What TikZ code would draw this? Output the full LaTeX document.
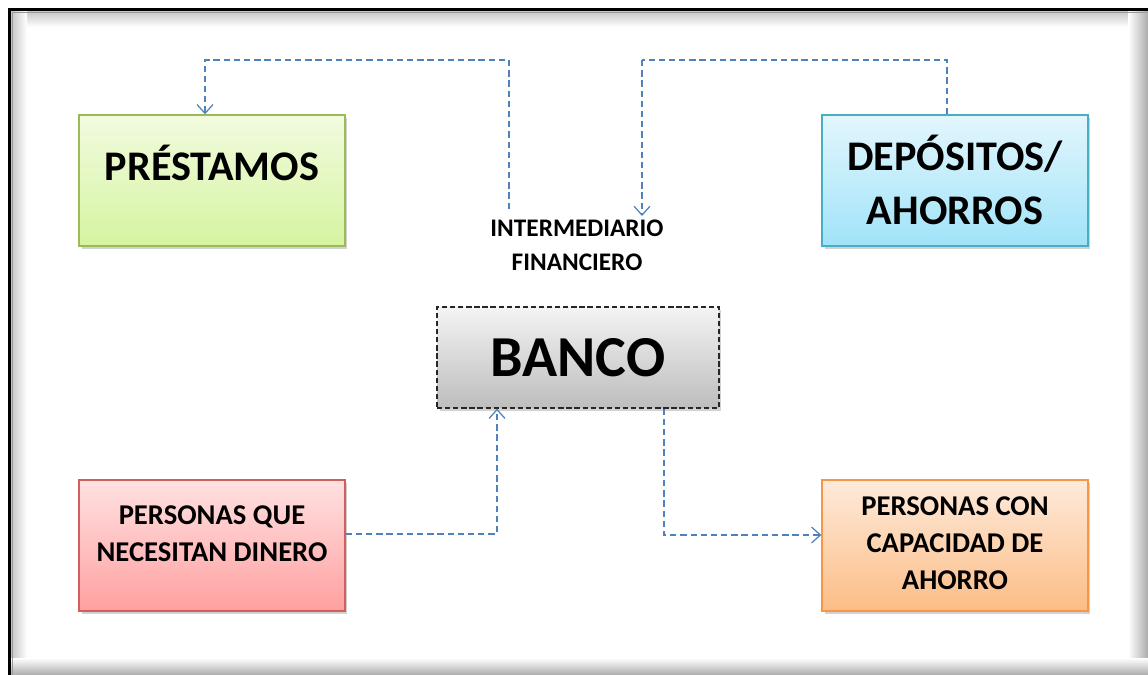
\documentclass[tikz,border=0pt]{standalone}
\usepackage{fontspec}
\setmainfont{Carlito}
\usetikzlibrary{arrows.meta,shadows}
\definecolor{conncol}{HTML}{4F81BD}
\definecolor{grnB}{HTML}{9BBB59}\definecolor{grnT}{HTML}{F2FBDF}\definecolor{grnD}{HTML}{D5F4A0}
\definecolor{cyaB}{HTML}{4BACC6}\definecolor{cyaT}{HTML}{E3F6FD}\definecolor{cyaD}{HTML}{A0E3F9}
\definecolor{gryT}{HTML}{F4F4F4}\definecolor{gryD}{HTML}{BDBDBD}
\definecolor{pnkB}{HTML}{D0605D}\definecolor{pnkT}{HTML}{FFE1E1}\definecolor{pnkD}{HTML}{FFA0A0}
\definecolor{orgB}{HTML}{F79646}\definecolor{orgT}{HTML}{FEEADB}\definecolor{orgD}{HTML}{FCBD86}
\begin{document}
\begin{tikzpicture}[x=0.02cm,y=-0.02cm,
  boxbase/.style={rectangle, minimum width=5.32cm, minimum height=2.62cm, inner sep=0pt,
     line width=0.8pt, drop shadow={shadow xshift=0.05cm, shadow yshift=-0.06cm, opacity=0.35}},
  bigtxt/.style={font=\bfseries\fontsize{24}{31}\selectfont, align=center, inner sep=0pt},
  smalltxt/.style={font=\bfseries\fontsize{16.3}{21.2}\selectfont, align=center, inner sep=0pt},
  conn/.style={draw=conncol, line width=0.7pt, dash pattern=on 3.6pt off 2.2pt,
     -{Straight Barb[length=5pt,width=9pt]}},
  connplain/.style={draw=conncol, line width=0.7pt, dash pattern=on 3.6pt off 2.2pt}
]
\useasboundingbox (0,0) rectangle (1148,675);
\fill[white] (0,0) rectangle (1148,675);
% outer frame with soft edges
\shade[top color=gray!45, bottom color=white] (11,11) rectangle (1148,27);
\shade[left color=gray!45, right color=white] (11,11) rectangle (27,675);
\shade[left color=white, right color=gray!65] (1128,11) rectangle (1148,675);
\shade[top color=white, bottom color=gray!65] (11,658) rectangle (1148,675);
\fill[white] (27,27) rectangle (1128,658);
\draw[black, line width=1.7pt] (9.5,675) -- (9.5,9.5) -- (1148,9.5);
\draw[gray!80, line width=0.9pt] (12.5,675) -- (12.5,12.5) -- (1148,12.5);

% boxes
\node[boxbase, draw=grnB, top color=grnT, bottom color=grnD] (pres) at (212,180.5) {};
\node[bigtxt] (prestxt) at (212,163) {PRÉSTAMOS};

\node[boxbase, draw=cyaB, top color=cyaT, bottom color=cyaD] (dep) at (955,180.5) {};
\node[bigtxt] (deptxt) at (955,180) {DEPÓSITOS/\\AHORROS};

\node[rectangle, minimum width=5.64cm, minimum height=2.02cm, inner sep=0pt,
      draw=black!85, line width=0.8pt, dash pattern=on 3pt off 1.6pt,
      top color=gryT, bottom color=gryD,
      drop shadow={shadow xshift=0.05cm, shadow yshift=-0.06cm, opacity=0.35},
      font=\bfseries\fontsize{33}{40}\selectfont] (banco) at (578,357.5) {BANCO};

\node[font=\bfseries\fontsize{14.4}{19.3}\selectfont, align=center, inner sep=0pt] (inter) at (577,245) {INTERMEDIARIO\\FINANCIERO};

\node[boxbase, draw=pnkB, top color=pnkT, bottom color=pnkD] (pq) at (212,545.5) {};
\node[smalltxt] (pqtxt) at (212,533.5) {PERSONAS QUE\\NECESITAN DINERO};

\node[boxbase, draw=orgB, top color=orgT, bottom color=orgD] (pc) at (955,545.5) {};
\node[smalltxt] (pctxt) at (955,543) {PERSONAS CON\\CAPACIDAD DE\\AHORRO};

% connectors
\coordinate (c1) at (509,209);
\coordinate (t1) at (509,60);
\draw[conn] (c1) -- (t1) -| ([xshift=-0.14cm]pres.north);

\coordinate (c2) at (642,216);
\coordinate (t2) at (642,60);
\draw[connplain] ([xshift=-0.16cm]dep.north) |- (t2);
\draw[conn] (t2) -- (c2);

\draw[conn] ([yshift=0.23cm]pq.east) -| ([xshift=-1.62cm]banco.south);
\draw[conn] ([xshift=1.72cm]banco.south) |- ([yshift=0.21cm]pc.west);
\end{tikzpicture}
\end{document}
